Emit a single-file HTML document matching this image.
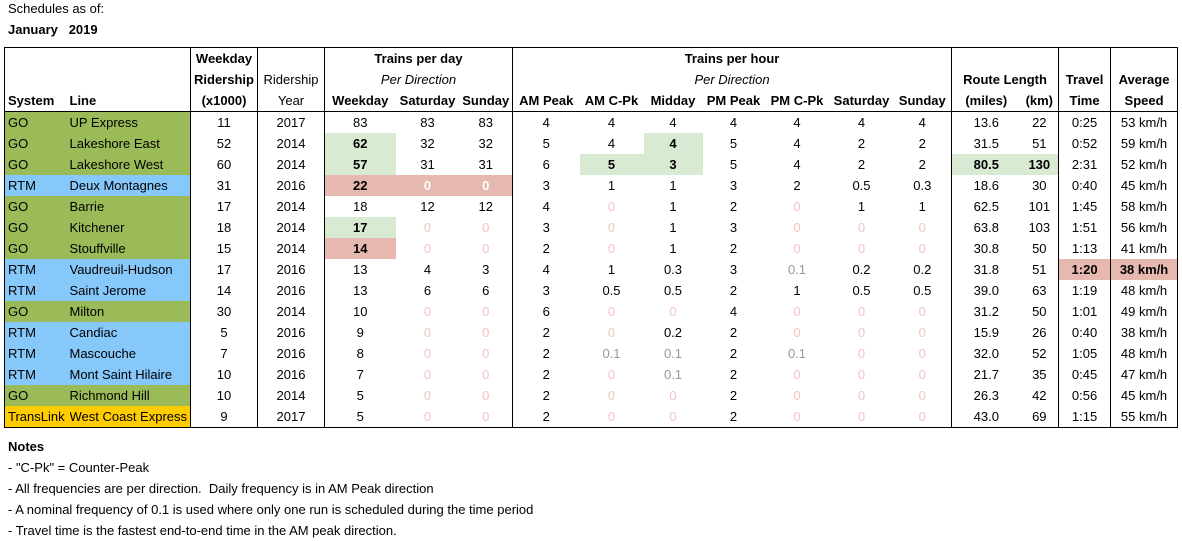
<!DOCTYPE html>
<html><head><meta charset="utf-8"><style>
body{margin:0;width:1182px;height:541px;background:#fff;font-family:"Liberation Sans",Arial,sans-serif;font-size:13px;color:#000;position:relative;overflow:hidden}
.t{position:absolute;left:8px;white-space:nowrap}
table{position:absolute;left:4px;top:47px;border-collapse:collapse;table-layout:fixed;width:1174px}
td{height:21px;padding:0;line-height:21px;text-align:center;white-space:nowrap;overflow:hidden}
.h td{font-weight:bold}
.n{font-weight:normal;font-style:normal}
.it{font-weight:normal;font-style:italic}
.L{text-align:left;padding-left:3px}
.L2{text-align:left;padding-left:0}
.br{border-right:1px solid #000}
.go{background:#9bbb59}.rtm{background:#87c8fb}.tl{background:#ffcc00}
.g{background:#d9ead3;font-weight:bold}.r{background:#e6b8af;font-weight:bold}
.z{color:#f2c4c4}.w{color:#fff}.q{color:#999}
</style></head><body>
<div class="t" style="top:1px;line-height:16px">Schedules as of:</div>
<div class="t" style="top:22px;line-height:16px;font-weight:bold">January &nbsp;&nbsp;2019</div>
<table style="border:1px solid #000">
<colgroup><col style="width:65px"><col style="width:121px"><col style="width:67px"><col style="width:67px"><col style="width:71px"><col style="width:64px"><col style="width:53px"><col style="width:67px"><col style="width:64px"><col style="width:59px"><col style="width:62px"><col style="width:65px"><col style="width:64px"><col style="width:58px"><col style="width:69px"><col style="width:38px"><col style="width:52px"><col style="width:67px"></colgroup>
<tr class="h"><td></td><td class="br"></td><td class="br">Weekday</td><td class="br"></td><td colspan="3" class="br">Trains per day</td><td colspan="7" class="br">Trains per hour</td><td colspan="2" class="br"></td><td class="br"></td><td></td></tr>
<tr class="h"><td></td><td class="br"></td><td class="br">Ridership</td><td class="br"><span class="n">Ridership</span></td><td colspan="3" class="br"><span class="it">Per Direction</span></td><td colspan="7" class="br"><span class="it">Per Direction</span></td><td colspan="2" class="br">Route Length</td><td class="br">Travel</td><td>Average</td></tr>
<tr class="h" style="border-bottom:1px solid #000"><td class="L">System</td><td class="L2 br">Line</td><td class="br">(x1000)</td><td class="br"><span class="n">Year</span></td><td>Weekday</td><td>Saturday</td><td class="br">Sunday</td><td>AM Peak</td><td>AM C-Pk</td><td>Midday</td><td>PM Peak</td><td>PM C-Pk</td><td>Saturday</td><td class="br">Sunday</td><td>(miles)</td><td class="br">(km)</td><td class="br">Time</td><td>Speed</td></tr>
<tr><td class="L go">GO</td><td class="L2 go br">UP Express</td><td class="br">11</td><td class="br">2017</td><td>83</td><td>83</td><td class="br">83</td><td>4</td><td>4</td><td>4</td><td>4</td><td>4</td><td>4</td><td class="br">4</td><td>13.6</td><td class="br">22</td><td class="br">0:25</td><td>53 km/h</td></tr>
<tr><td class="L go">GO</td><td class="L2 go br">Lakeshore East</td><td class="br">52</td><td class="br">2014</td><td class="g">62</td><td>32</td><td class="br">32</td><td>5</td><td>4</td><td class="g">4</td><td>5</td><td>4</td><td>2</td><td class="br">2</td><td>31.5</td><td class="br">51</td><td class="br">0:52</td><td>59 km/h</td></tr>
<tr><td class="L go">GO</td><td class="L2 go br">Lakeshore West</td><td class="br">60</td><td class="br">2014</td><td class="g">57</td><td>31</td><td class="br">31</td><td>6</td><td class="g">5</td><td class="g">3</td><td>5</td><td>4</td><td>2</td><td class="br">2</td><td class="g">80.5</td><td class="g br">130</td><td class="br">2:31</td><td>52 km/h</td></tr>
<tr><td class="L rtm">RTM</td><td class="L2 rtm br">Deux Montagnes</td><td class="br">31</td><td class="br">2016</td><td class="r">22</td><td class="r w">0</td><td class="r w br">0</td><td>3</td><td>1</td><td>1</td><td>3</td><td>2</td><td>0.5</td><td class="br">0.3</td><td>18.6</td><td class="br">30</td><td class="br">0:40</td><td>45 km/h</td></tr>
<tr><td class="L go">GO</td><td class="L2 go br">Barrie</td><td class="br">17</td><td class="br">2014</td><td>18</td><td>12</td><td class="br">12</td><td>4</td><td class="z">0</td><td>1</td><td>2</td><td class="z">0</td><td>1</td><td class="br">1</td><td>62.5</td><td class="br">101</td><td class="br">1:45</td><td>58 km/h</td></tr>
<tr><td class="L go">GO</td><td class="L2 go br">Kitchener</td><td class="br">18</td><td class="br">2014</td><td class="g">17</td><td class="z">0</td><td class="z br">0</td><td>3</td><td class="z">0</td><td>1</td><td>3</td><td class="z">0</td><td class="z">0</td><td class="z br">0</td><td>63.8</td><td class="br">103</td><td class="br">1:51</td><td>56 km/h</td></tr>
<tr><td class="L go">GO</td><td class="L2 go br">Stouffville</td><td class="br">15</td><td class="br">2014</td><td class="r">14</td><td class="z">0</td><td class="z br">0</td><td>2</td><td class="z">0</td><td>1</td><td>2</td><td class="z">0</td><td class="z">0</td><td class="z br">0</td><td>30.8</td><td class="br">50</td><td class="br">1:13</td><td>41 km/h</td></tr>
<tr><td class="L rtm">RTM</td><td class="L2 rtm br">Vaudreuil-Hudson</td><td class="br">17</td><td class="br">2016</td><td>13</td><td>4</td><td class="br">3</td><td>4</td><td>1</td><td>0.3</td><td>3</td><td class="q">0.1</td><td>0.2</td><td class="br">0.2</td><td>31.8</td><td class="br">51</td><td class="r br">1:20</td><td class="r">38 km/h</td></tr>
<tr><td class="L rtm">RTM</td><td class="L2 rtm br">Saint Jerome</td><td class="br">14</td><td class="br">2016</td><td>13</td><td>6</td><td class="br">6</td><td>3</td><td>0.5</td><td>0.5</td><td>2</td><td>1</td><td>0.5</td><td class="br">0.5</td><td>39.0</td><td class="br">63</td><td class="br">1:19</td><td>48 km/h</td></tr>
<tr><td class="L go">GO</td><td class="L2 go br">Milton</td><td class="br">30</td><td class="br">2014</td><td>10</td><td class="z">0</td><td class="z br">0</td><td>6</td><td class="z">0</td><td class="z">0</td><td>4</td><td class="z">0</td><td class="z">0</td><td class="z br">0</td><td>31.2</td><td class="br">50</td><td class="br">1:01</td><td>49 km/h</td></tr>
<tr><td class="L rtm">RTM</td><td class="L2 rtm br">Candiac</td><td class="br">5</td><td class="br">2016</td><td>9</td><td class="z">0</td><td class="z br">0</td><td>2</td><td class="z">0</td><td>0.2</td><td>2</td><td class="z">0</td><td class="z">0</td><td class="z br">0</td><td>15.9</td><td class="br">26</td><td class="br">0:40</td><td>38 km/h</td></tr>
<tr><td class="L rtm">RTM</td><td class="L2 rtm br">Mascouche</td><td class="br">7</td><td class="br">2016</td><td>8</td><td class="z">0</td><td class="z br">0</td><td>2</td><td class="q">0.1</td><td class="q">0.1</td><td>2</td><td class="q">0.1</td><td class="z">0</td><td class="z br">0</td><td>32.0</td><td class="br">52</td><td class="br">1:05</td><td>48 km/h</td></tr>
<tr><td class="L rtm">RTM</td><td class="L2 rtm br">Mont Saint Hilaire</td><td class="br">10</td><td class="br">2016</td><td>7</td><td class="z">0</td><td class="z br">0</td><td>2</td><td class="z">0</td><td class="q">0.1</td><td>2</td><td class="z">0</td><td class="z">0</td><td class="z br">0</td><td>21.7</td><td class="br">35</td><td class="br">0:45</td><td>47 km/h</td></tr>
<tr><td class="L go">GO</td><td class="L2 go br">Richmond Hill</td><td class="br">10</td><td class="br">2014</td><td>5</td><td class="z">0</td><td class="z br">0</td><td>2</td><td class="z">0</td><td class="z">0</td><td>2</td><td class="z">0</td><td class="z">0</td><td class="z br">0</td><td>26.3</td><td class="br">42</td><td class="br">0:56</td><td>45 km/h</td></tr>
<tr><td class="L tl">TransLink</td><td class="L2 tl br">West Coast Express</td><td class="br">9</td><td class="br">2017</td><td>5</td><td class="z">0</td><td class="z br">0</td><td>2</td><td class="z">0</td><td class="z">0</td><td>2</td><td class="z">0</td><td class="z">0</td><td class="z br">0</td><td>43.0</td><td class="br">69</td><td class="br">1:15</td><td>55 km/h</td></tr>
</table>
<div class="t" style="top:439px;line-height:16px;font-weight:bold">Notes</div>
<div class="t" style="top:460px;line-height:16px">- "C-Pk" = Counter-Peak</div>
<div class="t" style="top:481px;line-height:16px">- All frequencies are per direction. &nbsp;Daily frequency is in AM Peak direction</div>
<div class="t" style="top:502px;line-height:16px">- A nominal frequency of 0.1 is used where only one run is scheduled during the time period</div>
<div class="t" style="top:523px;line-height:16px">- Travel time is the fastest end-to-end time in the AM peak direction.</div>
</body></html>
